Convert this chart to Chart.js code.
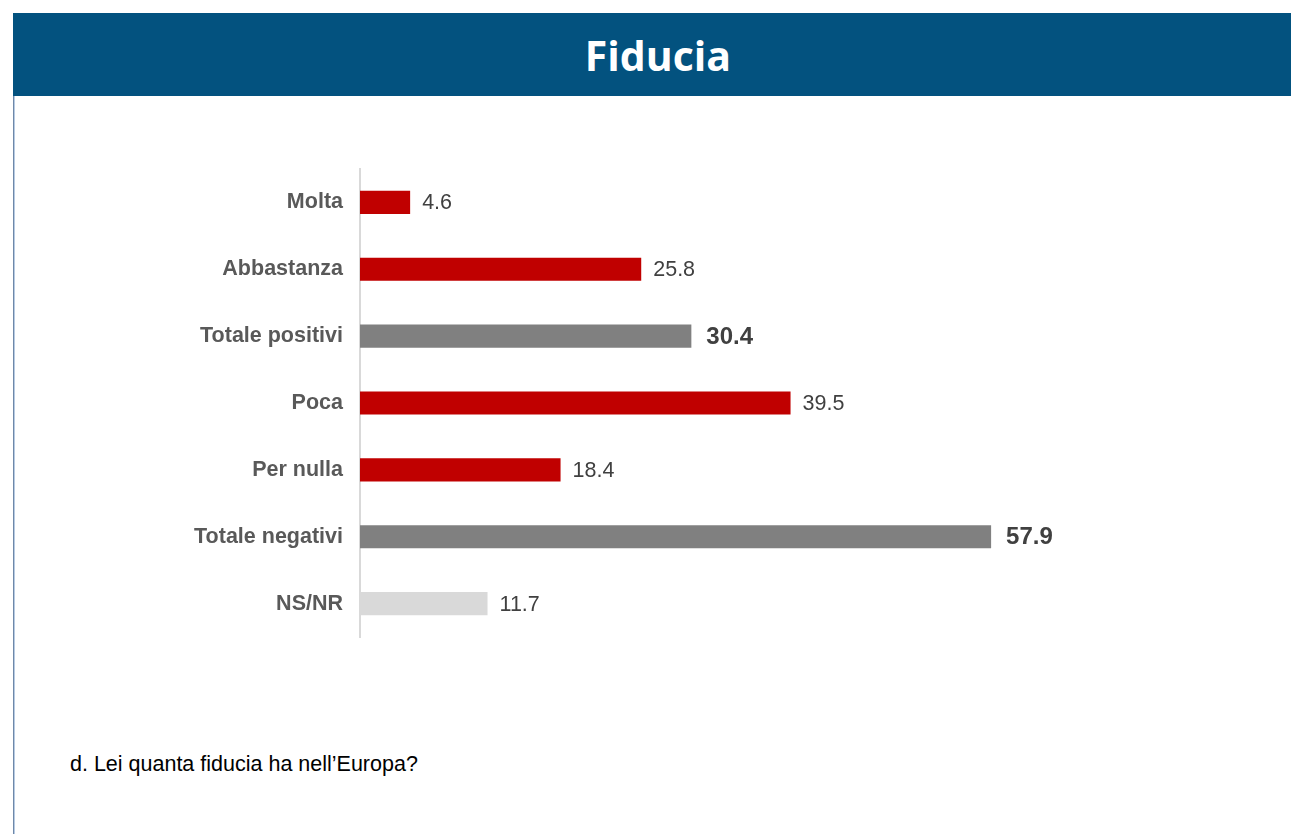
<!DOCTYPE html>
<html lang="it">
<head>
    <meta charset="UTF-8">
    <title>Fiducia</title>
    <script src="https://cdn.jsdelivr.net/npm/chart.js"></script>
    <style>
        body { margin: 0; background: #fff; width: 1291px; height: 834px; position: relative; overflow: hidden; }
        #header {
            position: absolute; left: 13px; top: 13px; width: 1278px; height: 83px;
            background: #03527F; color: #fff;
            font-family: "Open Sans", sans-serif; font-weight: 700; font-size: 41px;
            display: flex; align-items: center; justify-content: center;
            box-sizing: border-box; padding-left: 12px;
        }
        #border { position: absolute; left: 13px; top: 96px; width: 1px; height: 738px; background: #6f88a8; border-right: 1px solid #b7cbe3; }
        /* il canvas parte più in alto: l'asse y aggiunge ~29px sopra e sotto */
        #chart { position: absolute; left: 0; top: 139px; }
        #note {
            position: absolute; left: 70px; top: 752px;
            font-family: "Liberation Sans", Arial, sans-serif; font-size: 21.5px; color: #000;
        }
    </style>
</head>
<body>
    <div id="header">Fiducia</div>
    <div id="border"></div>
    <canvas id="chart" width="1232" height="528"></canvas>
    <div id="note">d. Lei quanta fiducia ha nell’Europa?</div>

    <script>
        // dati
        const categorie = ["Molta", "Abbastanza", "Totale positivi", "Poca", "Per nulla", "Totale negativi", "NS/NR"];
        const valori = [4.6, 25.8, 30.4, 39.5, 18.4, 57.9, 11.7];
        const colori = ["#C00000", "#C00000", "#808080", "#C00000", "#C00000", "#808080", "#D9D9D9"];
        const totali = [false, false, true, false, false, true, false];

        const FONT = '"Liberation Sans", Arial, sans-serif';

        // etichette dei valori a destra delle barre
        const valueLabels = {
            id: "valueLabels",
            afterDatasetsDraw(chart) {
                const ctx = chart.ctx;
                const meta = chart.getDatasetMeta(0);
                ctx.save();
                ctx.textBaseline = "middle";
                ctx.textAlign = "left";
                ctx.fillStyle = "#404040";
                meta.data.forEach((bar, i) => {
                    if (totali[i]) {
                        ctx.font = "bold 24px " + FONT;
                        ctx.fillText(valori[i].toFixed(1), bar.x + 15, bar.y + 1);
                    } else {
                        ctx.font = "21.5px " + FONT;
                        ctx.fillText(valori[i].toFixed(1), bar.x + 12, bar.y + 1);
                    }
                });
                ctx.restore();
            }
        };

        new Chart(document.getElementById("chart"), {
            type: "bar",
            data: {
                labels: categorie,
                datasets: [{
                    data: valori,
                    backgroundColor: colori,
                    categoryPercentage: 1,
                    barPercentage: 0.345
                }]
            },
            options: {
                indexAxis: "y",
                responsive: false,
                animation: false,
                layout: { padding: 0 },
                plugins: { legend: { display: false }, tooltip: { enabled: false } },
                scales: {
                    x: { display: false, min: 0, max: 80 },
                    y: {
                        grid: { display: false, drawTicks: false },
                        border: { display: true, color: "#D9D9D9", width: 2 },
                        ticks: {
                            padding: 17,
                            color: "#595959",
                            font: { family: FONT, size: 21.5, weight: "bold" }
                        },
                        afterFit(scale) { scale.width = 360; }
                    }
                }
            },
            plugins: [valueLabels]
        });
    </script>
</body>
</html>
